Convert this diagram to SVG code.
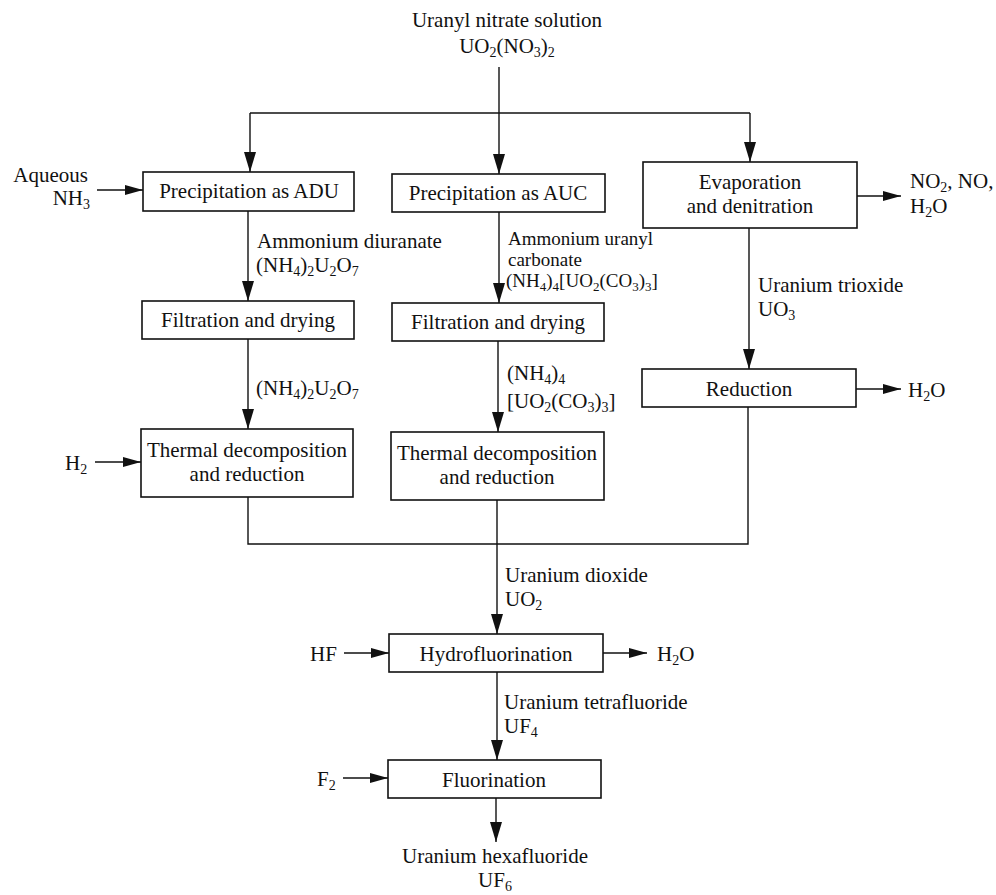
<svg xmlns="http://www.w3.org/2000/svg" width="996" height="895" viewBox="0 0 996 895">
<style>
text{font-family:"Liberation Serif","Times New Roman",serif;font-size:21px;fill:#111}
.c{text-anchor:middle}
.e{text-anchor:end}
.s{font-size:14px}
.sm{font-size:19px}
.sm .s{font-size:13px}
.box{fill:#fff;stroke:#111;stroke-width:1.6}
.ln{fill:none;stroke:#111;stroke-width:1.4}
.ar{fill:none;stroke:#111;stroke-width:1.4;marker-end:url(#ah)}
.sa{fill:none;stroke:#111;stroke-width:1.4;marker-end:url(#sh)}
</style>
<defs>
<marker id="ah" markerUnits="userSpaceOnUse" markerWidth="20" markerHeight="12" refX="20" refY="6" orient="auto">
<path d="M0,0 L20,6 L0,12 Z" fill="#111"/>
</marker>
<marker id="sh" markerUnits="userSpaceOnUse" markerWidth="18" markerHeight="10" refX="18" refY="5" orient="auto">
<path d="M0,0 L18,5 L0,10 Z" fill="#111"/>
</marker>
</defs>
<rect width="996" height="895" fill="#fff"/>

<g id="connectors">
<path class="ln" d="M250,113 H750"/>
<path class="ar" d="M250,113 V172"/>
<path class="ar" d="M499,67 V174"/>
<path class="ar" d="M750,113 V162"/>
<path class="sa" d="M97,190 H143"/>
<path class="sa" d="M857,196 H901"/>
<path class="ar" d="M248,211 V301"/>
<path class="ar" d="M499,212 V303"/>
<path class="ar" d="M749,228 V369"/>
<path class="sa" d="M856,389 H901"/>
<path class="ar" d="M248,339 V429"/>
<path class="ar" d="M498,341 V432"/>
<path class="sa" d="M95,462 H141"/>
<path class="ln" d="M248,497 V544 H748 V407"/>
<path class="ar" d="M497,500 V634"/>
<path class="sa" d="M344,653 H389"/>
<path class="sa" d="M603,653 H647"/>
<path class="ar" d="M497,672 V760"/>
<path class="sa" d="M343,778 H388"/>
<path class="ar" d="M496,798 V842"/>
</g>

<g id="feed">
<text class="c"><tspan x="507" y="27">Uranyl nitrate solution</tspan><tspan x="507" y="53">UO<tspan class="s" dy="4">2</tspan><tspan dy="-4">(NO</tspan><tspan class="s" dy="4">3</tspan><tspan dy="-4">)</tspan><tspan class="s" dy="4">2</tspan></tspan></text>
</g>

<g id="nh3">
<text class="e"><tspan x="88" y="182">Aqueous</tspan><tspan x="90" y="205">NH<tspan class="s" dy="4">3</tspan></tspan></text>
</g>

<g id="adu">
<rect class="box" x="143" y="172" width="211" height="39"/>
<text class="c" x="249" y="198">Precipitation as ADU</text>
</g>

<g id="auc">
<rect class="box" x="392" y="174" width="213" height="38"/>
<text class="c" x="498" y="200">Precipitation as AUC</text>
</g>

<g id="evap">
<rect class="box" x="643" y="162" width="214" height="66"/>
<text class="c"><tspan x="750" y="189">Evaporation</tspan><tspan x="750" y="213">and denitration</tspan></text>
</g>

<g id="nox">
<text><tspan x="910" y="188">NO<tspan class="s" dy="4">2</tspan><tspan dy="-4">, NO,</tspan></tspan><tspan x="910" y="213">H<tspan class="s" dy="4">2</tspan><tspan dy="-4">O</tspan></tspan></text>
</g>

<g id="lbl-adu">
<text><tspan x="257" y="248">Ammonium diuranate</tspan><tspan x="256" y="272">(NH<tspan class="s" dy="4">4</tspan><tspan dy="-4">)</tspan><tspan class="s" dy="4">2</tspan><tspan dy="-4">U</tspan><tspan class="s" dy="4">2</tspan><tspan dy="-4">O</tspan><tspan class="s" dy="4">7</tspan></tspan></text>
</g>

<g id="lbl-auc">
<text class="sm"><tspan x="508" y="245">Ammonium uranyl</tspan><tspan x="508" y="266">carbonate</tspan><tspan x="506" y="287">(NH<tspan class="s" dy="4">4</tspan><tspan dy="-4">)</tspan><tspan class="s" dy="4">4</tspan><tspan dy="-4">[UO</tspan><tspan class="s" dy="4">2</tspan><tspan dy="-4">(CO</tspan><tspan class="s" dy="4">3</tspan><tspan dy="-4">)</tspan><tspan class="s" dy="4">3</tspan><tspan dy="-4">]</tspan></tspan></text>
</g>

<g id="lbl-uo3">
<text><tspan x="758" y="292">Uranium trioxide</tspan><tspan x="758" y="316">UO<tspan class="s" dy="4">3</tspan></tspan></text>
</g>

<g id="filt1">
<rect class="box" x="142" y="301" width="212" height="38"/>
<text class="c" x="248" y="327">Filtration and drying</text>
</g>

<g id="filt2">
<rect class="box" x="392" y="303" width="212" height="38"/>
<text class="c" x="498" y="329">Filtration and drying</text>
</g>

<g id="red">
<rect class="box" x="642" y="369" width="214" height="38"/>
<text class="c" x="749" y="396">Reduction</text>
</g>

<g id="h2o-red">
<text x="908" y="397">H<tspan class="s" dy="4">2</tspan><tspan dy="-4">O</tspan></text>
</g>

<g id="lbl-adu2">
<text x="256" y="395">(NH<tspan class="s" dy="4">4</tspan><tspan dy="-4">)</tspan><tspan class="s" dy="4">2</tspan><tspan dy="-4">U</tspan><tspan class="s" dy="4">2</tspan><tspan dy="-4">O</tspan><tspan class="s" dy="4">7</tspan></text>
</g>

<g id="lbl-auc2">
<text><tspan x="507" y="380">(NH<tspan class="s" dy="4">4</tspan><tspan dy="-4">)</tspan><tspan class="s" dy="4">4</tspan></tspan><tspan x="507" y="408">[UO<tspan class="s" dy="4">2</tspan><tspan dy="-4">(CO</tspan><tspan class="s" dy="4">3</tspan><tspan dy="-4">)</tspan><tspan class="s" dy="4">3</tspan><tspan dy="-4">]</tspan></tspan></text>
</g>

<g id="h2">
<text x="65" y="470">H<tspan class="s" dy="4">2</tspan></text>
</g>

<g id="therm1">
<rect class="box" x="141" y="429" width="212" height="68"/>
<text class="c"><tspan x="247" y="457">Thermal decomposition</tspan><tspan x="247" y="481">and reduction</tspan></text>
</g>

<g id="therm2">
<rect class="box" x="391" y="432" width="213" height="68"/>
<text class="c"><tspan x="497" y="460">Thermal decomposition</tspan><tspan x="497" y="484">and reduction</tspan></text>
</g>

<g id="lbl-uo2">
<text><tspan x="505" y="582">Uranium dioxide</tspan><tspan x="505" y="606">UO<tspan class="s" dy="4">2</tspan></tspan></text>
</g>

<g id="hf">
<text x="310" y="661">HF</text>
</g>

<g id="hydro">
<rect class="box" x="389" y="634" width="214" height="38"/>
<text class="c" x="496" y="661">Hydrofluorination</text>
</g>

<g id="h2o-hf">
<text x="657" y="661">H<tspan class="s" dy="4">2</tspan><tspan dy="-4">O</tspan></text>
</g>

<g id="lbl-uf4">
<text><tspan x="504" y="709">Uranium tetrafluoride</tspan><tspan x="504" y="733">UF<tspan class="s" dy="4">4</tspan></tspan></text>
</g>

<g id="f2">
<text x="317" y="786">F<tspan class="s" dy="4">2</tspan></text>
</g>

<g id="fluor">
<rect class="box" x="388" y="760" width="213" height="38"/>
<text class="c" x="494" y="787">Fluorination</text>
</g>

<g id="uf6">
<text class="c"><tspan x="495" y="863">Uranium hexafluoride</tspan><tspan x="495" y="887">UF<tspan class="s" dy="4">6</tspan></tspan></text>
</g>
</svg>
